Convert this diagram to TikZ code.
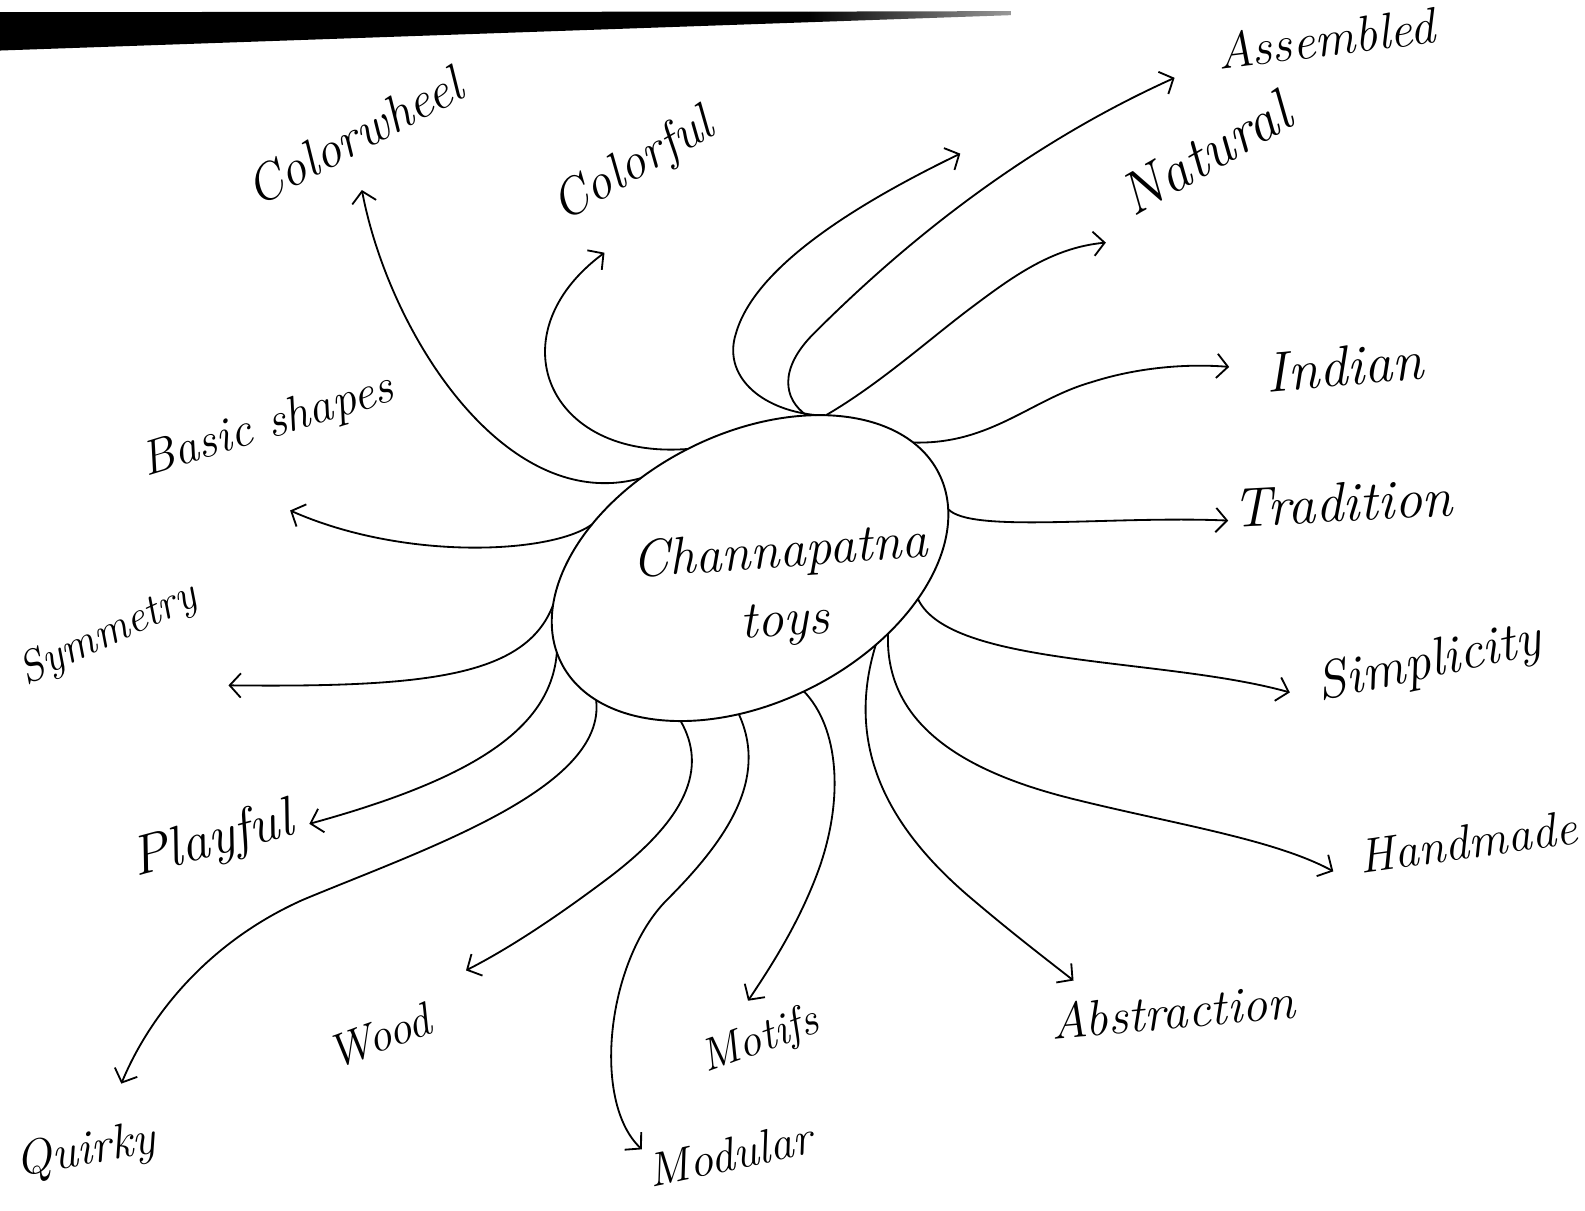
\documentclass[tikz,border=0pt]{standalone}
\usepackage{fontspec}
\usetikzlibrary{arrows.meta,shapes.geometric}
\begin{document}
\begin{tikzpicture}[x=1pt,y=-1pt,
  conn/.style={line width=1.8pt, -{Straight Barb[length=11pt,width=24pt,line width=1.8pt]}},
  lbl/.style={font=\fontsize{#1pt}{#1pt}\selectfont\itshape, inner sep=0pt},
  hubshape/.style={ellipse, draw, line width=1.9pt, minimum width=418pt, minimum height=266pt, inner sep=0pt, outer sep=0pt}
]
\fill[white] (0,0) rectangle (1568,1198);
\useasboundingbox (0,0) rectangle (1568,1198);
% scanned dark band at the top
\fill[black] (0,12) -- (800,11.5) -- (800,22) -- (0,50) -- cycle;
\shade[left color=black, right color=black!40] (800,11.5) -- (1000,11) -- (1000,15) -- (800,22) -- cycle;

% central ellipse
\node[hubshape, rotate=26.6] (hub) at (742,562) {};
\node[font=\fontsize{52pt}{68pt}\selectfont\itshape, align=center, inner sep=0pt, rotate=4] (hubtext) at (774,582) {Channapatna\\toys};

% labels
\node[lbl=51, rotate=28] (colorwheel) at (350,135) {Colorwheel};
\node[lbl=51, rotate=30] (colorful) at (627,165) {Colorful};
\node[lbl=50, rotate=7] (assembled) at (1312,38) {Assembled};
\node[lbl=58, rotate=30] (natural) at (1192,152) {Natural};
\node[lbl=56, rotate=5] (indian) at (1330,362) {Indian};
\node[lbl=55, rotate=3] (tradition) at (1328,497) {Tradition};
\node[lbl=53, rotate=12] (simplicity) at (1414,657) {Simplicity};
\node[lbl=48, rotate=8] (handmade) at (1452,833) {Handmade};
\node[lbl=50, rotate=5] (abstraction) at (1160,1000) {Abstraction};
\node[lbl=45, rotate=20] (motifs) at (752,1030) {Motifs};
\node[lbl=47, rotate=12] (modular) at (722,1142) {Modular};
\node[lbl=46, rotate=20] (wood) at (375,1025) {Wood};
\node[lbl=48, rotate=10] (quirky) at (85,1140) {Quirky};
\node[lbl=55, rotate=15] (playful) at (210,833) {Playful};
\node[lbl=44, rotate=25] (symmetry) at (107,628) {Symmetry};
\node[lbl=48, rotate=17] (basic) at (265,422) {Basic shapes};

% arrow tips
\coordinate (tipCw) at (358,188);
\coordinate (tipCf) at (598,250);
\coordinate (tipBs) at (287,505);
\coordinate (tipU) at (950,152);
\coordinate (tipA) at (1162,77);
\coordinate (tipN) at (1094,240);
\coordinate (tipI) at (1216,363);
\coordinate (tipT) at (1215,515);
\coordinate (tipS) at (1276,685);
\coordinate (tipH) at (1319,862);
\coordinate (tipAb) at (1062,970);
\coordinate (tipMo) at (740,990);
\coordinate (tipMd) at (635,1137);
\coordinate (tipW) at (461,960);
\coordinate (tipQ) at (120,1072);
\coordinate (tipP) at (306,815);
\coordinate (tipSy) at (226,678);

% connectors
\draw[conn] (hub.114) .. controls (500,510) and (385,330) .. (tipCw);
\draw[conn] (hub.91) .. controls (540,455) and (490,330) .. (tipCf);
\draw[conn] (hub.138) .. controls (545,548) and (400,555) .. (tipBs);
\draw[conn] (hub.40) .. controls (750,405) and (715,370) .. (728,330) .. controls (745,270) and (830,210) .. (tipU);
\draw[conn] (hub.43) .. controls (775,395) and (770,365) .. (805,330) .. controls (880,255) and (1000,150) .. (tipA);
\draw[conn] (hub.37) .. controls (870,380) and (920,335) .. (960,305) .. controls (1000,275) and (1040,245) .. (tipN);
\draw[conn] (hub.11) .. controls (980,440) and (1020,395) .. (1080,378) .. controls (1130,362) and (1180,360) .. (tipI);
\draw[conn] (hub.350) .. controls (960,528) and (1100,510) .. (tipT);
\draw[conn] (hub.323) .. controls (940,660) and (1150,650) .. (tipS);
\draw[conn] (hub.308) .. controls (875,720) and (960,765) .. (1060,790) .. controls (1160,815) and (1260,830) .. (tipH);
\draw[conn] (hub.302) .. controls (835,740) and (880,820) .. (960,888) .. controls (1000,922) and (1030,945) .. (tipAb);
\draw[conn] (hub.267) .. controls (830,720) and (835,790) .. (810,860) .. controls (790,915) and (760,960) .. (tipMo);
\draw[conn] (hub.239) .. controls (760,770) and (720,830) .. (660,890) .. controls (600,950) and (585,1090) .. (tipMd);
\draw[conn] (hub.219) .. controls (700,760) and (680,810) .. (600,870) .. controls (560,900) and (510,935) .. (tipW);
\draw[conn] (hub.194) .. controls (600,780) and (420,840) .. (300,890) .. controls (210,930) and (150,1000) .. (tipQ);
\draw[conn] (hub.177) .. controls (545,720) and (470,770) .. (tipP);
\draw[conn] (hub.164) .. controls (520,670) and (420,680) .. (tipSy);
\end{tikzpicture}
\end{document}
